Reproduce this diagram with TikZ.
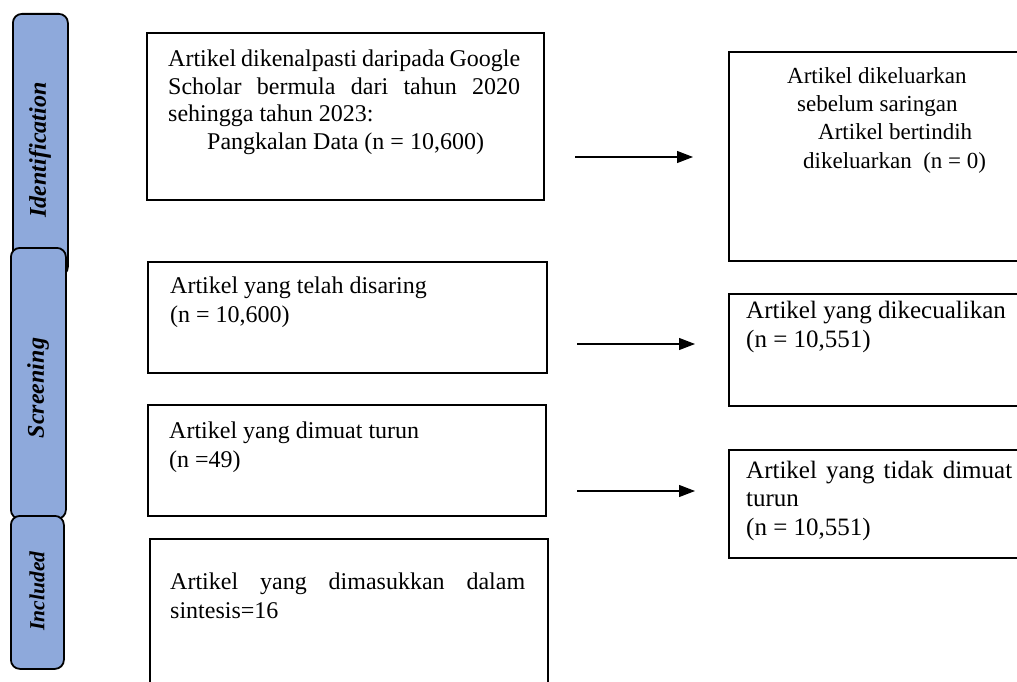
\documentclass[tikz,border=0pt]{standalone}
\usepackage{fontspec}
\setmainfont{Liberation Serif}
\usetikzlibrary{arrows.meta}
\definecolor{phaseblue}{HTML}{8EA9DB}
\begin{document}
\begin{tikzpicture}[x=1pt,y=-1pt,
  box/.style={draw, line width=1.9pt, inner sep=0pt, anchor=north west},
  txt/.style={anchor=base west, inner sep=0pt, font=\fontsize{24}{29}\selectfont, align=left},
  phase/.style={draw, line width=1.8pt, fill=phaseblue, rounded corners=9pt, inner sep=0pt, anchor=north west},
  phaselbl/.style={rotate=90, inner sep=0pt, font=\fontsize{24}{28}\selectfont\bfseries\itshape},
  arr/.style={line width=1.1pt, -{Triangle[length=16pt,width=12pt]}}
]
\useasboundingbox (0,0) rectangle (1017,682);
\clip (0,0) rectangle (1017,682);

% phase bars
\node[phase, minimum width=55pt, minimum height=262pt] (idbar) at (12,13) {};
\node[phase, minimum width=55pt, minimum height=271pt] (scbar) at (10,247) {};
\node[phase, minimum width=53pt, minimum height=153pt] (inbar) at (10,515) {};
\node[phaselbl] (idlbl) at (40,150) {Identification};
\node[phaselbl] (sclbl) at (38,388) {Screening};
\node[phaselbl, font=\fontsize{21.5}{25}\selectfont\bfseries\itshape] (inlbl) at (37,591) {Included};

% left boxes
\node[box, minimum width=397pt, minimum height=167pt] (b1) at (146,32) {};
\node[box, minimum width=399pt, minimum height=111pt] (b2) at (147,261) {};
\node[box, minimum width=398pt, minimum height=111pt] (b3) at (147,404) {};
\node[box, minimum width=398pt, minimum height=160pt] (b4) at (149,538) {};

% right boxes
\node[box, minimum width=320pt, minimum height=209pt] (r1) at (728,51) {};
\node[box, minimum width=320pt, minimum height=112pt] (r2) at (728,293) {};
\node[box, minimum width=320pt, minimum height=108pt] (r3) at (728,449) {};

% texts (anchored at the baseline of their last line)
\node[txt, font=\fontsize{24}{27.5}\selectfont] (t1) at (168,149.5) {\makebox[352pt][s]{Artikel dikenalpasti daripada Google}\\
\makebox[352pt][s]{Scholar bermula dari tahun 2020}\\
sehingga tahun 2023:\\
\hspace*{39pt}Pangkalan Data (n = 10,600)};
\node[txt] (t2) at (170,322) {Artikel yang telah disaring\\(n = 10,600)};
\node[txt] (t3) at (169,467) {Artikel yang dimuat turun\\(n =49)};
\node[txt] (t4) at (170,618) {\makebox[355pt][s]{Artikel yang dimasukkan dalam}\\sintesis=16};
\node[txt, font=\fontsize{23}{28.3}\selectfont] (u1) at (787,168) {Artikel dikeluarkan\\
\hspace*{10pt}sebelum saringan\\
\hspace*{31pt}Artikel bertindih\\
\hspace*{16pt}dikeluarkan\ \ (n = 0)};
\node[txt, font=\fontsize{25}{29}\selectfont] (u2) at (746,347) {Artikel yang dikecualikan\\(n = 10,551)};
\node[txt, font=\fontsize{25}{28.5}\selectfont] (u3) at (746,535) {\makebox[266pt][s]{Artikel yang tidak dimuat}\\turun\\(n = 10,551)};

% arrows
\coordinate (a1s) at (575,157);
\coordinate (a1e) at (693,157);
\coordinate (a2s) at (577,344);
\coordinate (a2e) at (695,344);
\coordinate (a3s) at (577,491);
\coordinate (a3e) at (695,491);
\draw[arr] (a1s) -- (a1e);
\draw[arr] (a2s) -- (a2e);
\draw[arr] (a3s) -- (a3e);
\end{tikzpicture}
\end{document}
